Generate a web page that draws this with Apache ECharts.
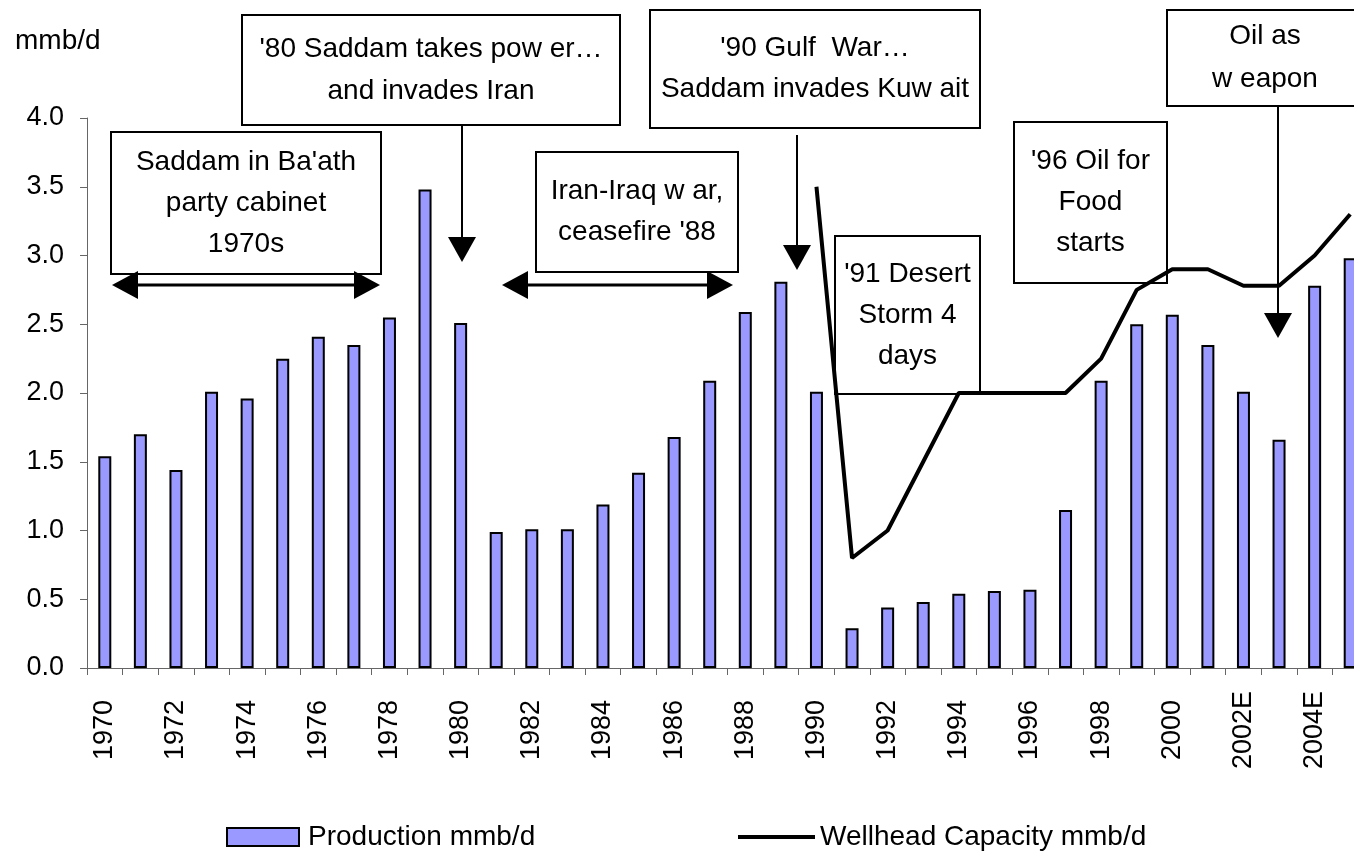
<!DOCTYPE html>
<html>
<head>
<meta charset="utf-8">
<script src="https://cdn.jsdelivr.net/npm/echarts@6/dist/echarts.min.js"></script>
<style>
  html, body { margin: 0; padding: 0; background: #fff; overflow: hidden; }
  /* the source chart is cut off on the right, so the canvas runs past the window */
  #chart { width: 1372px; height: 851px; }
</style>
</head>
<body>
<div id="chart"></div>
<script>
// ==================== DATA ====================
const years = ['1970', '1971', '1972', '1973', '1974', '1975', '1976', '1977', '1978', '1979',
  '1980', '1981', '1982', '1983', '1984', '1985', '1986', '1987', '1988', '1989',
  '1990', '1991', '1992', '1993', '1994', '1995', '1996', '1997', '1998', '1999',
  '2000', '2001', '2002E', '2003', '2004E', '2005'];
const production = [1.54, 1.70, 1.44, 2.01, 1.96, 2.25, 2.41, 2.35, 2.55, 3.48,
  2.51, 0.99, 1.01, 1.01, 1.19, 1.42, 1.68, 2.09, 2.59, 2.81,
  2.01, 0.29, 0.44, 0.48, 0.54, 0.56, 0.57, 1.15, 2.09, 2.50,
  2.57, 2.35, 2.01, 1.66, 2.78, 2.98];
const capacity = [null, null, null, null, null, null, null, null, null, null,
  null, null, null, null, null, null, null, null, null, null,
  3.5, 0.8, 1.0, 1.5, 2.0, 2.0, 2.0, 2.0, 2.25, 2.75,
  2.9, 2.9, 2.78, 2.78, 3.0, 3.3];
const yTicks = { min: 0, max: 4, step: 0.5 };

// annotation boxes: text, box left/top/width/height
const notes = [
  { text: "Saddam in Ba'ath\nparty cabinet\n1970s", x: 111, y: 132, w: 270, h: 142, lh: 41 },
  { text: "'80 Saddam takes pow er…\nand invades Iran", x: 242, y: 15, w: 378, h: 110, lh: 42 },
  { text: "Iran-Iraq w ar,\nceasefire '88", x: 536, y: 152, w: 202, h: 120, lh: 41 },
  { text: "'90 Gulf  War…\nSaddam invades Kuw ait", x: 650, y: 10, w: 330, h: 118, lh: 41 },
  { text: "'91 Desert\nStorm 4\ndays", x: 835, y: 236, w: 145, h: 158, lh: 41 },
  { text: "'96 Oil for\nFood\nstarts", x: 1014, y: 122, w: 153, h: 161, lh: 41 },
  { text: "Oil as\nw eapon", x: 1167, y: 10, w: 196, h: 96, lh: 43 }
];

const FONT = 'Liberation Sans, Arial, sans-serif';
const ink = '#000';

function boxEl(n) {
  return {
    type: 'group',
    children: [
      { type: 'rect', shape: { x: n.x, y: n.y, width: n.w, height: n.h },
        style: { fill: '#fff', stroke: ink, lineWidth: 2 } },
      { type: 'text', x: n.x + n.w / 2, y: n.y + n.h / 2,
        style: { text: n.text, fill: ink, font: '28px ' + FONT, align: 'center', verticalAlign: 'middle', lineHeight: n.lh } }
    ]
  };
}

function downArrow(x, y1, y2) {
  return [
    { type: 'line', shape: { x1: x, y1: y1, x2: x, y2: y2 - 20 }, style: { stroke: ink, lineWidth: 2 } },
    { type: 'polygon', shape: { points: [[x - 14, y2 - 25], [x + 14, y2 - 25], [x, y2]] }, style: { fill: ink } }
  ];
}

function bothArrow(x1, x2, y) {
  return [
    { type: 'line', shape: { x1: x1 + 20, y1: y, x2: x2 - 20, y2: y }, style: { stroke: ink, lineWidth: 3 } },
    { type: 'polygon', shape: { points: [[x1, y], [x1 + 26, y - 14], [x1 + 26, y + 14]] }, style: { fill: ink } },
    { type: 'polygon', shape: { points: [[x2, y], [x2 - 26, y - 14], [x2 - 26, y + 14]] }, style: { fill: ink } }
  ];
}

const chart = echarts.init(document.getElementById('chart'));
const axisC = '#666';

chart.setOption({
  backgroundColor: '#fff',
  animation: false,
  textStyle: { fontFamily: FONT },
  title: { text: 'mmb/d', left: 10, top: 22, textStyle: { fontSize: 28, fontWeight: 'normal', color: ink, fontFamily: FONT } },
  grid: { left: 87, top: 118, width: 1281, height: 550 },
  legend: [
    { data: ['Production mmb/d'], left: 226, top: 823, padding: 0, icon: 'rect', itemWidth: 72, itemHeight: 18,
      itemStyle: { borderColor: ink, borderWidth: 2 },
      textStyle: { fontSize: 28, color: ink, fontFamily: FONT, padding: [0, 0, 0, 4] } },
    { data: ['Wellhead Capacity mmb/d'], left: 738, top: 823, padding: 0, icon: 'rect', itemWidth: 77, itemHeight: 4,
      itemStyle: { color: ink, borderWidth: 0 },
      textStyle: { fontSize: 28, color: ink, fontFamily: FONT } }
  ],
  xAxis: {
    type: 'category', data: years,
    axisLine: { lineStyle: { color: axisC, width: 1 } },
    axisTick: { show: true, interval: 0, length: 7, lineStyle: { color: axisC } },
    axisLabel: { interval: 1, rotate: 90, align: 'center', verticalAlign: 'middle', margin: 62, fontSize: 27, color: ink, fontFamily: FONT },
    splitLine: { show: false }
  },
  yAxis: {
    type: 'value', min: yTicks.min, max: yTicks.max, interval: yTicks.step,
    axisLine: { show: true, lineStyle: { color: axisC, width: 1 } },
    axisTick: { show: true, length: 7, lineStyle: { color: axisC } },
    axisLabel: { margin: 23, fontSize: 27, color: ink, fontFamily: FONT, formatter: v => v.toFixed(1) },
    splitLine: { show: false }
  },
  series: [
    { name: 'Production mmb/d', type: 'bar', data: production, barWidth: 13,
      itemStyle: { color: '#9999FF', borderColor: ink, borderWidth: 2 } },
    { name: 'Wellhead Capacity mmb/d', type: 'line', data: capacity, symbol: 'none',
      lineStyle: { color: ink, width: 4 }, itemStyle: { color: ink } }
  ],
  graphic: [
    ...notes.map(boxEl),
    ...downArrow(462, 125, 262),
    ...downArrow(797, 135, 270),
    ...downArrow(1278, 105, 338),
    ...bothArrow(112, 380, 285),
    ...bothArrow(502, 733, 285)
  ]
});
</script>
</body>
</html>
